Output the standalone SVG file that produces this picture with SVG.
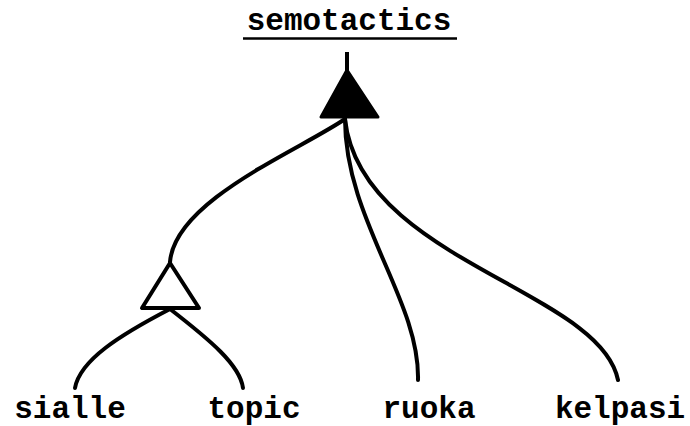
<svg xmlns="http://www.w3.org/2000/svg" width="690" height="426" viewBox="0 0 690 426">
<style>
.t{font-family:"Liberation Mono","Courier New",monospace;font-size:31px;font-weight:bold;fill:#000;text-anchor:middle}
.c{fill:none;stroke:#000;stroke-width:4;stroke-linecap:round;stroke-linejoin:round}
</style>
<rect width="690" height="426" fill="#fff"/>
<g id="semotactics">
<text class="t" x="349" y="30">semotactics</text>
<line x1="243" y1="38.5" x2="457" y2="38.5" stroke="#000" stroke-width="2.5"/>
</g>
<g id="root-triangle">
<line x1="347" y1="52" x2="347" y2="72" stroke="#000" stroke-width="4"/>
<polygon points="347,70 321,117 378,117" fill="#000" stroke="#000" stroke-width="3" stroke-linejoin="round"/>
</g>
<g id="sub-triangle">
<polygon points="170,263 142,308 199,308" fill="#fff" stroke="#000" stroke-width="4" stroke-linejoin="round"/>
</g>
<g id="connectors">
<path class="c" d="M345,119 C300,150 175,200 170,262"/>
<path class="c" d="M345,119 C345,220 420,300 418,380"/>
<path class="c" d="M345,119 C360,260 600,290 618,380"/>
<path class="c" d="M170,309 C120,335 80,360 75,388"/>
<path class="c" d="M170,309 C210,340 240,365 243,388"/>
</g>
<g id="sialle"><text class="t" x="70" y="418">sialle</text></g>
<g id="topic"><text class="t" x="254" y="418">topic</text></g>
<g id="ruoka"><text class="t" x="429" y="418">ruoka</text></g>
<g id="kelpasi"><text class="t" x="620" y="418">kelpasi</text></g>
</svg>
